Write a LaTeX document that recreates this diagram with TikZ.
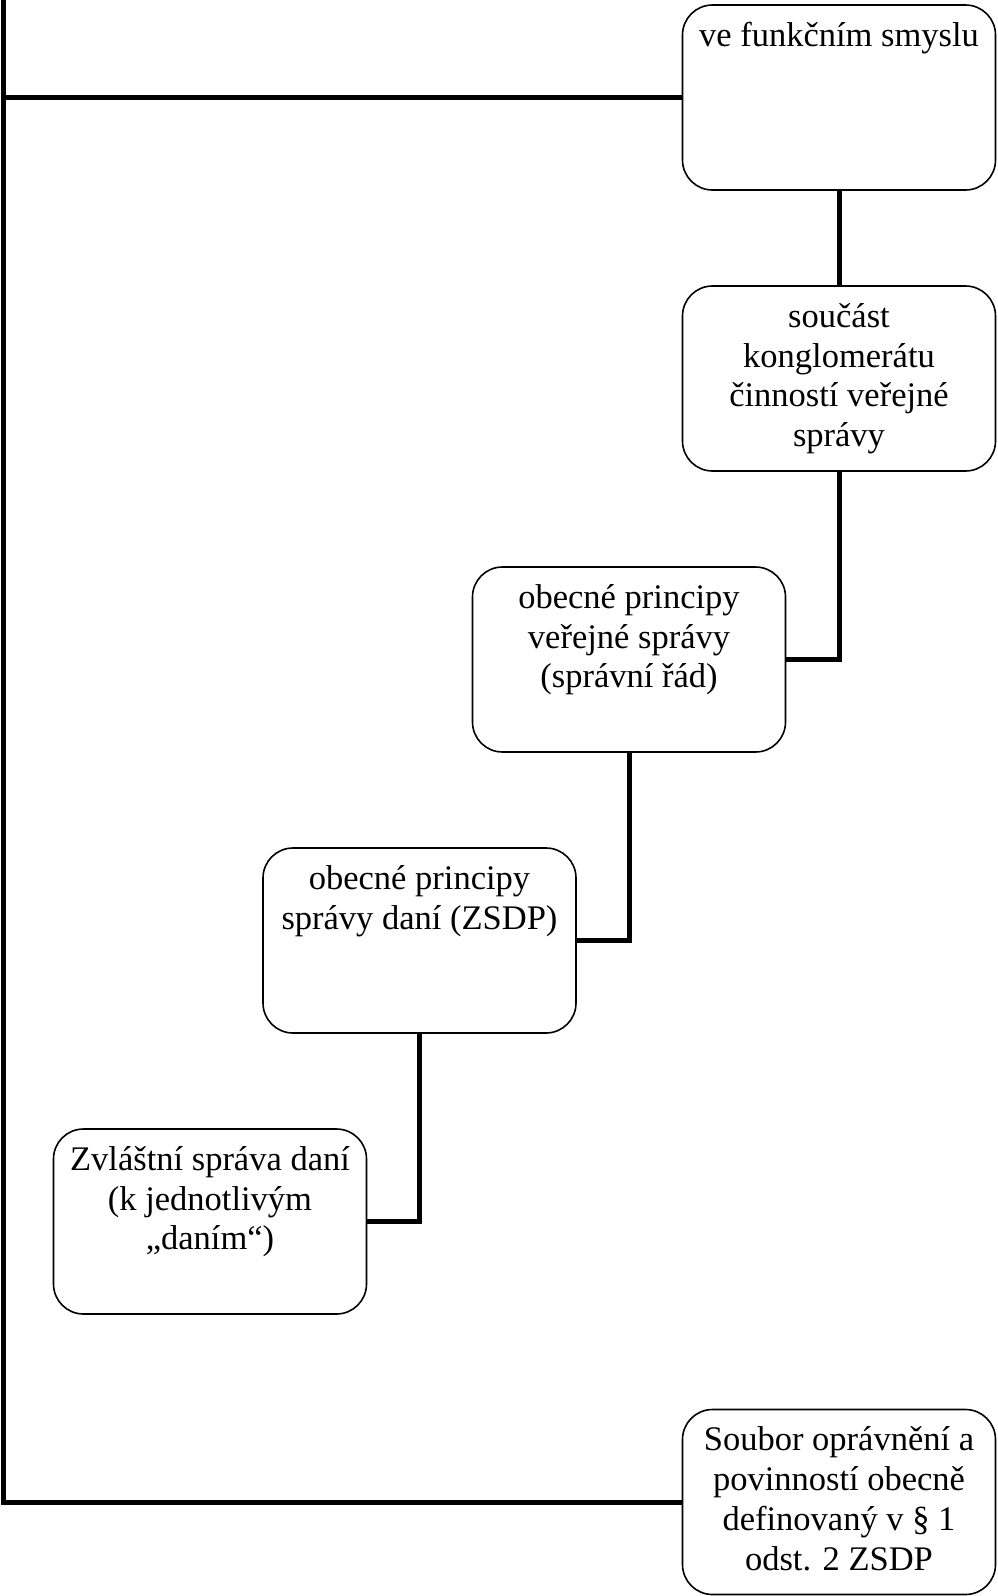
\documentclass[tikz,border=0pt]{standalone}
\usepackage{fontspec}
\setmainfont{Liberation Serif}
\begin{document}
\begin{tikzpicture}[x=1pt,y=-1pt,
  box/.style={draw=black, line width=1.6pt, rounded corners=30pt, minimum width=313pt, minimum height=185pt, inner sep=0pt},
  txt/.style={anchor=north, align=center, inner sep=0pt, font=\fontsize{34.5}{39.7}\selectfont},
  conn/.style={draw=black, line width=5pt}]
\useasboundingbox (0,0) rectangle (998,1596);
\node[box] (b1) at (839,97.5) {};
\node[box] (b2) at (839,378.5) {};
\node[box] (b3) at (629,659.5) {};
\node[box] (b4) at (419.5,940.5) {};
\node[box] (b5) at (210,1221.5) {};
\node[box] (b6) at (839,1502) {};
\node[txt] (t1) at ([yshift=-18pt]b1.north) {ve funkčním smyslu};
\node[txt] (t2) at ([yshift=-18pt]b2.north) {součást\\konglomerátu\\činností veřejné\\správy};
\node[txt] (t3) at ([yshift=-18pt]b3.north) {obecné principy\\veřejné správy\\(správní řád)};
\node[txt] (t4) at ([yshift=-18pt]b4.north) {obecné principy\\správy daní (ZSDP)};
\node[txt] (t5) at ([yshift=-18pt]b5.north) {Zvláštní správa daní\\(k jednotlivým\\„daním“)};
\node[txt] (t6) at ([yshift=-18pt]b6.north) {Soubor oprávnění a\\povinností obecně\\definovaný v § 1\\odst. 2 ZSDP};
\coordinate (ltop) at (3,0);
\coordinate (lbot) at (3,1502);
\draw[conn] (ltop) -- (lbot) -- (b6.west);
\draw[conn] (b1.west) -- (ltop |- b1.west);
\draw[conn] (b1.south) -- (b2.north);
\draw[conn] (b2.south) |- (b3.east);
\draw[conn] (b3.south) |- (b4.east);
\draw[conn] (b4.south) |- (b5.east);
\end{tikzpicture}
\end{document}
